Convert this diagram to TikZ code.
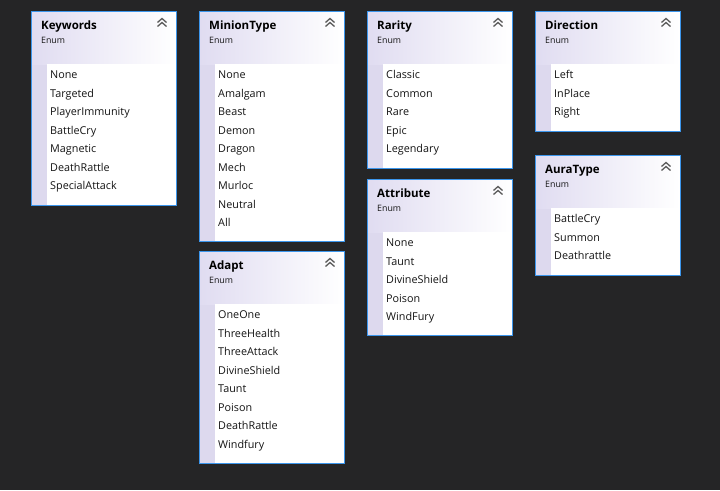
\documentclass[tikz,border=0pt]{standalone}
\usepackage{fontspec}
\setmainfont{Open Sans}
\definecolor{bgc}{RGB}{37,37,38}
\definecolor{lav}{RGB}{221,217,238}
\definecolor{lavh}{RGB}{224,220,241}
\definecolor{bordc}{RGB}{60,150,236}
\definecolor{chev}{RGB}{90,90,90}
\definecolor{txt}{RGB}{20,20,20}
\tikzset{
  boxframe/.style={draw=bordc, line width=1pt, minimum width=145pt, inner sep=0pt, anchor=north west},
  titlef/.style={font=\fontsize{11.5}{13}\selectfont\bfseries, text=black, inner sep=0pt, anchor=base west},
  enumf/.style={font=\fontsize{8.8}{10}\selectfont, text=txt, inner sep=0pt, anchor=base west},
  itemf/.style={font=\fontsize{10.8}{12}\selectfont, text=txt, inner sep=0pt, anchor=base west},
  chevline/.style={draw=chev, line width=1.3pt},
}
\newcommand{\enumbox}[6]{%
  \fill[lav] (#2,#3) rectangle ({#2+145},{#3+#4});
  \shade[left color=lavh, right color=white] (#2,#3) rectangle ({#2+145},{#3+53});
  \fill[white] ({#2+16},{#3+53}) rectangle ({#2+145},{#3+#4});
  \node[boxframe, minimum height=#4pt] (#1) at (#2,#3) {};
  \node[titlef] (#1-t) at ({#2+10},{#3+18}) {#5};
  \node[enumf] (#1-e) at ({#2+10},{#3+32.7}) {Enum};
  \draw[chevline] ({#2+126.5},{#3+11.5}) -- ({#2+131},{#3+7.5}) -- ({#2+135.5},{#3+11.5});
  \draw[chevline] ({#2+126.5},{#3+15.5}) -- ({#2+131},{#3+11.5}) -- ({#2+135.5},{#3+15.5});
  \foreach \t [count=\i] in {#6} {
    \node[itemf] (#1-\i) at ({#2+19},{#3+67.7+(\i-1)*18.5}) {\t};
  }
}
\begin{document}
\begin{tikzpicture}[x=1pt,y=-1pt]
  \fill[bgc] (0,0) rectangle (720,490);
  \useasboundingbox (0,0) rectangle (720,490);
  \enumbox{kw}{31}{11}{193.5}{Keywords}{None,Targeted,PlayerImmunity,BattleCry,Magnetic,DeathRattle,SpecialAttack}
  \enumbox{mt}{199}{11}{230}{MinionType}{None,Amalgam,Beast,Demon,Dragon,Mech,Murloc,Neutral,All}
  \enumbox{ad}{199}{251}{212}{Adapt}{OneOne,ThreeHealth,ThreeAttack,DivineShield,Taunt,Poison,DeathRattle,Windfury}
  \enumbox{ra}{367}{11}{156.5}{Rarity}{Classic,Common,Rare,Epic,Legendary}
  \enumbox{at}{367}{179}{156}{Attribute}{None,Taunt,DivineShield,Poison,WindFury}
  \enumbox{di}{535}{11}{120}{Direction}{Left,InPlace,Right}
  \enumbox{au}{535}{155}{120}{AuraType}{BattleCry,Summon,Deathrattle}
\end{tikzpicture}
\end{document}
